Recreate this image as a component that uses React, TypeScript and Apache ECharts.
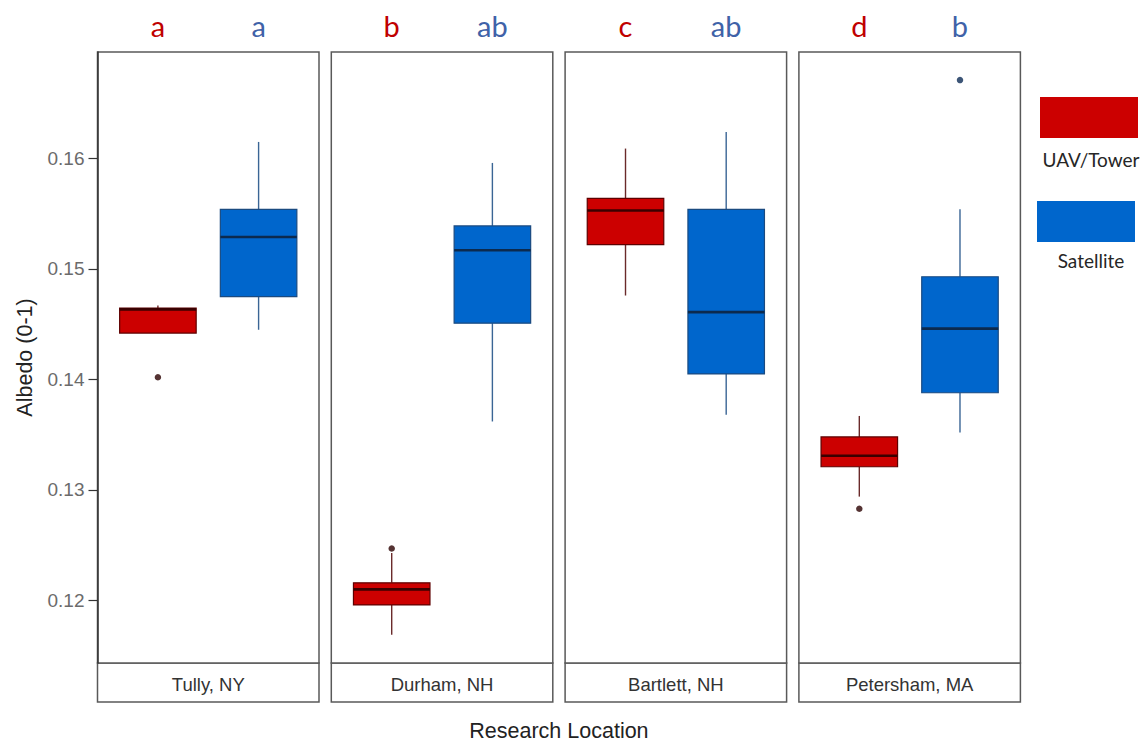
import React, { useEffect, useRef } from "react";
import * as echarts from "echarts";

// Research sites, one facet each
const sites = ["Tully, NY", "Durham, NH", "Bartlett, NH", "Petersham, MA"];

// Box statistics per site: [lower whisker, Q1, median, Q3, upper whisker]
const uavStats = [
  [0.1442, 0.1442, 0.14635, 0.14645, 0.1467],
  [0.1169, 0.1196, 0.121, 0.1216, 0.1243],
  [0.1476, 0.1522, 0.1553, 0.1564, 0.1609],
  [0.1294, 0.1321, 0.1331, 0.1348, 0.1367],
];
const satStats = [
  [0.1445, 0.1475, 0.1529, 0.1554, 0.1615],
  [0.1362, 0.1451, 0.1517, 0.1539, 0.1596],
  [0.1368, 0.1405, 0.1461, 0.1554, 0.1624],
  [0.1352, 0.1388, 0.1446, 0.1493, 0.1554],
];

// Outlying observations per site
const uavOutliers = [[0.1402], [0.1247], [], [0.1283]];
const satOutliers = [[], [], [], [0.1671]];

// Significance letters drawn above each box
const uavLetters = ["a", "b", "c", "d"];
const satLetters = ["a", "ab", "ab", "b"];

const yTicks = [0.12, 0.13, 0.14, 0.15, 0.16];
const Y_MIN = 0.11434;
const Y_MAX = 0.16964;

const groups = ["UAV/Tower", "Satellite"];

// layout
const PANEL_LEFT = 97.5;
const PANEL_STEP = 233.8;
const PANEL_W = 221.5;
const PANEL_TOP = 52;
const PANEL_H = 611;
const STRIP_H = 39;
const BOX_W = 0.76;

const styles = {
  uav: {
    fill: "#cc0000",
    border: "#5e0000",
    median: "#3a0000",
    whisker: "#6a2a2a",
    point: "#2a0000",
    letter: "#c00000",
  },
  sat: {
    fill: "#0066cc",
    border: "#1a4a80",
    median: "#0c2a4e",
    whisker: "#3a6595",
    point: "#0b2a55",
    letter: "#3f62a8",
  },
};

function boxSeries(panel: number, xPos: number, stats: number[], letter: string, st: any) {
  return {
    type: "custom",
    xAxisIndex: panel,
    yAxisIndex: panel,
    clip: false,
    data: [[xPos, ...stats]],
    renderItem: (_params: any, api: any) => {
      const x = api.value(0);
      const lo = api.value(1);
      const q1 = api.value(2);
      const med = api.value(3);
      const q3 = api.value(4);
      const hi = api.value(5);
      const h = BOX_W / 2;
      const tl = api.coord([x - h, q3]);
      const br = api.coord([x + h, q1]);
      const mL = api.coord([x - h, med]);
      const mR = api.coord([x + h, med]);
      const pHi = api.coord([x, hi]);
      const pQ3 = api.coord([x, q3]);
      const pQ1 = api.coord([x, q1]);
      const pLo = api.coord([x, lo]);
      const pTop = api.coord([x, Y_MAX]);
      return {
        type: "group",
        children: [
          {
            type: "line",
            shape: { x1: pHi[0], y1: pHi[1], x2: pQ3[0], y2: pQ3[1] },
            style: { stroke: st.whisker, lineWidth: 1.4 },
          },
          {
            type: "line",
            shape: { x1: pQ1[0], y1: pQ1[1], x2: pLo[0], y2: pLo[1] },
            style: { stroke: st.whisker, lineWidth: 1.4 },
          },
          {
            type: "rect",
            shape: { x: tl[0], y: tl[1], width: br[0] - tl[0], height: br[1] - tl[1] },
            style: { fill: st.fill, stroke: st.border, lineWidth: 1.2 },
          },
          {
            type: "line",
            shape: { x1: mL[0], y1: mL[1], x2: mR[0], y2: mR[1] },
            style: { stroke: st.median, lineWidth: 2.6 },
          },
          {
            type: "text",
            style: {
              text: letter,
              x: pTop[0],
              y: pTop[1] - 27,
              align: "center",
              verticalAlign: "middle",
              fill: st.letter,
              font: "29px Lato, 'Noto Sans', sans-serif",
            },
          },
        ],
      };
    },
  };
}

function pointSeries(panel: number, xPos: number, values: number[], color: string) {
  return {
    type: "scatter",
    xAxisIndex: panel,
    yAxisIndex: panel,
    symbol: "circle",
    symbolSize: 6.5,
    itemStyle: { color },
    data: values.map((v) => [xPos, v]),
  };
}

export default function App() {
  const ref = useRef<HTMLDivElement>(null);

  useEffect(() => {
    if (!ref.current) return;
    const chart = echarts.init(ref.current, null, { renderer: "svg" });

    const grids = sites.map((_, i) => ({
      left: PANEL_LEFT + i * PANEL_STEP,
      top: PANEL_TOP,
      width: PANEL_W,
      height: PANEL_H,
      show: true,
      borderColor: "#595959",
      borderWidth: 1.5,
      backgroundColor: "#ffffff",
    }));

    const xAxes = sites.map((name, i) => ({
      type: "value",
      gridIndex: i,
      min: 0.4,
      max: 2.6,
      axisLine: { show: false },
      axisTick: { show: false },
      axisLabel: { show: false },
      splitLine: { show: false },
      name,
      nameLocation: "middle",
      nameGap: 12,
      nameTextStyle: {
        fontSize: 18.5,
        color: "#333333",
        fontFamily: "'Liberation Sans', Arial, sans-serif",
        verticalAlign: "top",
      },
    }));

    const yAxes = sites.map((_, i) => ({
      type: "value",
      gridIndex: i,
      min: Y_MIN,
      max: Y_MAX,
      show: i === 0,
      axisLine: { show: i === 0, lineStyle: { color: "#333333", width: 1.5 } },
      axisTick: {
        show: i === 0,
        length: 9,
        lineStyle: { color: "#333333", width: 1.2 },
        customValues: yTicks,
      },
      axisLabel: {
        show: i === 0,
        customValues: yTicks,
        formatter: (v: number) => v.toFixed(2),
        fontSize: 19,
        color: "#6b6b6b",
        margin: 13,
        fontFamily: "'Liberation Sans', Arial, sans-serif",
      },
      splitLine: { show: false },
      name: i === 0 ? "Albedo (0-1)" : "",
      nameLocation: "middle",
      nameGap: 62,
      nameRotate: 90,
      nameTextStyle: {
        fontSize: 21.5,
        color: "#222222",
        fontFamily: "'Liberation Sans', Arial, sans-serif",
      },
    }));

    const series: any[] = [];
    sites.forEach((_, i) => {
      series.push(boxSeries(i, 1, uavStats[i], uavLetters[i], styles.uav));
      series.push(boxSeries(i, 2, satStats[i], satLetters[i], styles.sat));
      series.push(pointSeries(i, 1, uavOutliers[i], styles.uav.point));
      series.push(pointSeries(i, 2, satOutliers[i], styles.sat.point));
    });

    const graphics: any[] = sites.map((_, i) => ({
      type: "rect",
      silent: true,
      z: -1,
      shape: {
        x: PANEL_LEFT + i * PANEL_STEP,
        y: PANEL_TOP + PANEL_H,
        width: PANEL_W,
        height: STRIP_H,
      },
      style: { fill: "#ffffff", stroke: "#595959", lineWidth: 1.5 },
    }));

    graphics.push(
      {
        type: "text",
        style: {
          text: "Research Location",
          x: PANEL_LEFT + (3 * PANEL_STEP + PANEL_W) / 2,
          y: 731,
          align: "center",
          verticalAlign: "middle",
          font: "21.5px 'Liberation Sans', Arial, sans-serif",
          fill: "#222222",
        },
      },
      {
        type: "rect",
        shape: { x: 1040, y: 97, width: 98, height: 41 },
        style: { fill: styles.uav.fill },
      },
      {
        type: "text",
        style: {
          text: groups[0],
          x: 1091,
          y: 159,
          align: "center",
          verticalAlign: "middle",
          font: "19px Lato, 'Noto Sans', sans-serif",
          fill: "#262626",
        },
      },
      {
        type: "rect",
        shape: { x: 1037, y: 201, width: 98, height: 41 },
        style: { fill: styles.sat.fill },
      },
      {
        type: "text",
        style: {
          text: groups[1],
          x: 1091,
          y: 260,
          align: "center",
          verticalAlign: "middle",
          font: "19px Lato, 'Noto Sans', sans-serif",
          fill: "#262626",
        },
      }
    );

    chart.setOption({
      animation: false,
      backgroundColor: "#ffffff",
      grid: grids,
      xAxis: xAxes,
      yAxis: yAxes,
      series,
      graphic: graphics,
    });

    return () => chart.dispose();
  }, []);

  return (
    <div
      ref={ref}
      style={{ position: "fixed", left: 0, top: 0, width: 1148, height: 742 }}
    />
  );
}
